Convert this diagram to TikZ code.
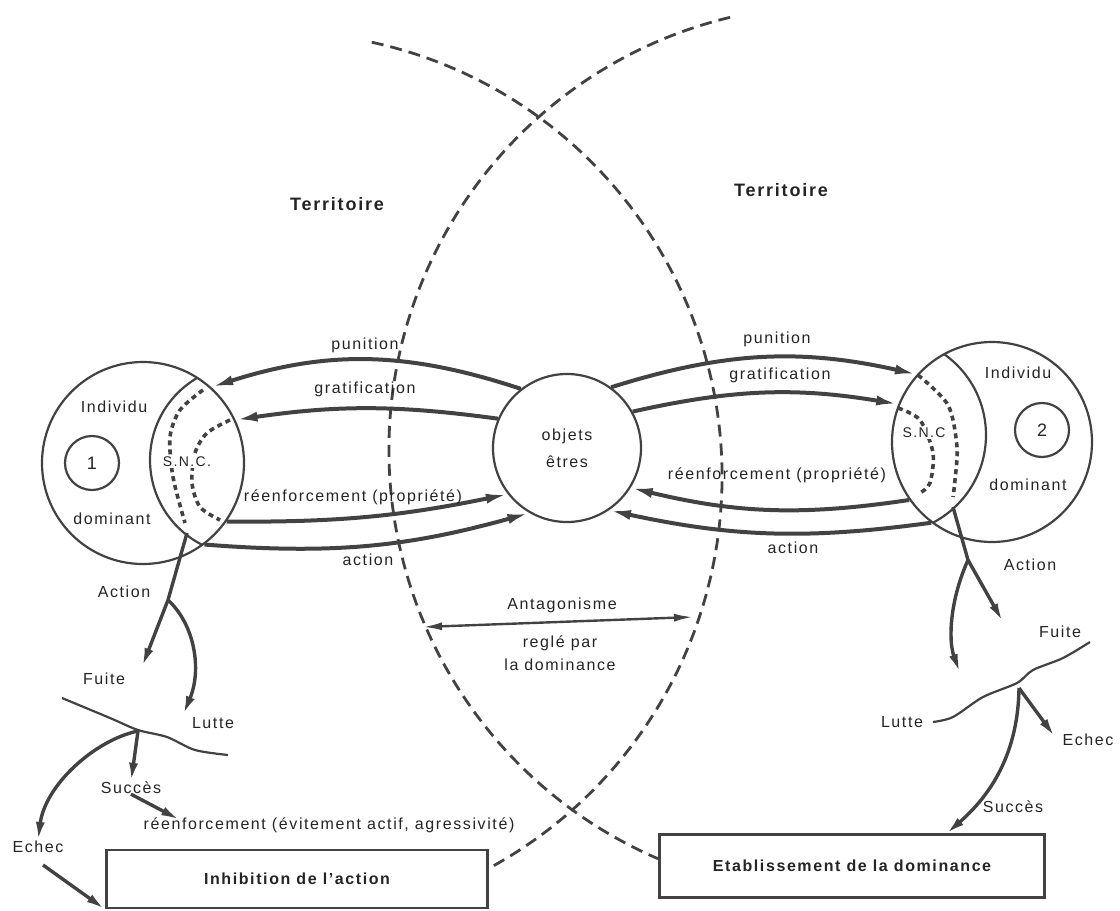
\documentclass[tikz,border=0pt]{standalone}
\usepackage{fontspec}
\setmainfont{Liberation Sans}[LetterSpace=10]
\usetikzlibrary{arrows.meta}
\definecolor{ink}{gray}{0.26}
\definecolor{txt}{gray}{0.14}
\tikzset{
  flow/.style={draw=ink, line width=4pt, -{Latex[length=22pt,width=10pt]}},
  fork/.style={draw=ink, line width=3.4pt, -{Latex[length=19pt,width=9pt]}},
  ring/.style={circle, draw=ink, line width=2.2pt, inner sep=0pt},
  terr/.style={draw=ink, line width=2.8pt, dash pattern=on 12pt off 7pt},
  nerve/.style={draw=ink, line width=3.6pt, dash pattern=on 5pt off 4pt},
  wave/.style={draw=ink, line width=2.2pt},
  lbl/.style={text=txt, font=\fontsize{16}{18}\selectfont, inner sep=0pt},
  ttl/.style={text=txt, font=\bfseries\fontsize{18}{20}\selectfont, inner sep=0pt},
  panel/.style={draw=ink, line width=2.8pt, text=txt, font=\bfseries\fontsize{16}{18}\selectfont},
}
\begin{document}
\begin{tikzpicture}[x=1pt,y=-1pt]
\useasboundingbox (0,0) rectangle (1120,911);
% limites des territoires
\coordinate (cA) at (277,477);
\coordinate (cB) at (834,450);
\draw[terr] ([shift={(77.7:445pt)}]cA) arc[start angle=77.7, end angle=-61.1, radius=445pt];
\draw[terr] ([shift={(103.5:445pt)}]cB) arc[start angle=103.5, end angle=246.7, radius=445pt];
\node[ttl] (terr1) at (337,204) {Territoire};
\node[ttl] (terr2) at (781,190) {Territoire};

% individus et S.N.C.
\node[ring, minimum size=202pt] (ind1) at (143,463) {};
\node[ring, minimum size=200pt] (ind2) at (992,442) {};
\begin{scope}
  \clip (ind1.center) circle[radius=101pt];
  \draw[ink, line width=2.2pt] (245,460) circle[radius=95pt];
\end{scope}
\begin{scope}
  \clip (ind2.center) circle[radius=100pt];
  \draw[ink, line width=2.2pt] (887,435) circle[radius=99pt];
\end{scope}
\draw[nerve] plot[smooth] coordinates {(203,390) (180,410) (170,437) (173,477) (185,523)};
\draw[nerve] plot[smooth] coordinates {(230,420) (207,433) (195,453) (192,483) (200,507) (220,520)};
\draw[nerve] plot[smooth] coordinates {(918,375) (948,405) (957,447) (955,480) (953,497)};
\draw[nerve] plot[smooth] coordinates {(898,408) (920,420) (933,453) (930,483) (920,493)};
\node[ring, minimum size=54pt, lbl, font=\fontsize{18}{20}\selectfont] (n1) at (92,463) {1};
\node[ring, minimum size=54pt, lbl, font=\fontsize{18}{20}\selectfont] (n2) at (1042,430) {2};
\node[lbl] (indiv1) at (114,407) {Individu};
\node[lbl] (dom1) at (112,519) {dominant};
\node[lbl, font=\fontsize{14}{16}\selectfont, fill=white, inner sep=1.5pt] (snc1) at (187,462) {S.N.C.};
\node[lbl] (indiv2) at (1018,373) {Individu};
\node[lbl] (dom2) at (1028,485) {dominant};
\node[lbl, font=\fontsize{14}{16}\selectfont, fill=white, inner sep=1.5pt] (snc2) at (924,433) {S.N.C};

% objets
\node[ring, minimum size=148pt, lbl, align=center] (obj) at (567,448) {objets\\[9pt]êtres};

% echanges
\draw[flow] (obj.128) to[bend right=18] (ind1.48);
\draw[flow] (obj.157) to[bend right=8] (ind1.25);
\draw[flow] (ind1.-35) to[bend right=6] (obj.218);
\draw[flow] (ind1.-53) to[bend right=10] (obj.240);
\draw[flow] (obj.54) to[bend left=15] (ind2.138);
\draw[flow] (obj.29) to[bend left=11] (ind2.158);
\draw[flow] (ind2.215) to[bend left=11] (obj.-32);
\draw[flow] (ind2.233) to[bend left=10] (obj.-56);
\node[lbl] (pun1) at (365,345) {punition};
\node[lbl] (grat1) at (365,389) {gratification};
\node[lbl] (renf1) at (353,497) {réenforcement (propriété)};
\node[lbl] (act1) at (368,560) {action};
\node[lbl] (pun2) at (777,339) {punition};
\node[lbl] (grat2) at (780,375) {gratification};
\node[lbl] (renf2) at (777,475) {réenforcement (propriété)};
\node[lbl] (act2) at (793,548) {action};

% antagonisme
\coordinate (antL) at (423,627);
\coordinate (antR) at (693,617);
\draw[ink, line width=2.4pt, {Latex[length=19pt,width=8pt]}-{Latex[length=19pt,width=8pt]}] (antL) -- (antR);
\node[lbl] (anta) at (562,605) {Antagonisme};
\node[lbl, align=center] (regle) at (560,653) {reglé par\\[5pt]la dominance};

% individu 1 : action
\coordinate (a1) at (187,533);
\coordinate (s1) at (168,600);
\coordinate (f1) at (142,667);
\coordinate (l1) at (183,715);
\coordinate (j1) at (138,731);
\draw[ink, line width=3.4pt] (a1) -- (s1);
\draw[fork] (s1) -- (f1);
\draw[fork] (s1) .. controls (195,625) and (202,670) .. (l1);
\node[lbl] (act1b) at (124,592) {Action};
\node[lbl] (fui1) at (104,679) {Fuite};
\node[lbl] (lut1) at (213,723) {Lutte};
\draw[wave] plot[smooth] coordinates {(62,698) (110,718) (138,730) (167,737) (195,750) (228,755)};
\node[lbl] (suc1) at (131,788) {Succès};
\node[lbl] (ech1) at (38,847) {Echec};
\draw[fork] (j1) -- (suc1.north);
\draw[fork] (j1) .. controls (95,740) and (45,785) .. (ech1.north);
\node[lbl] (renf3) at (329,825) {réenforcement (évitement actif, agressivité)};
\coordinate (r1) at (180,820);
\draw[fork] (suc1.south) -- (r1);
\node[panel, minimum width=381pt, minimum height=58pt] (inhib) at (297,879) {Inhibition de l'action};
\coordinate (e1) at (43,865);
\draw[fork] (e1) -- (inhib.south west);

% individu 2 : action
\coordinate (a2) at (953,507);
\coordinate (s2) at (968,560);
\coordinate (f2) at (1003,622);
\coordinate (l2) at (960,673);
\coordinate (j2) at (1019,688);
\draw[ink, line width=3.4pt] (a2) -- (s2);
\draw[fork] (s2) -- (f2);
\draw[fork] (s2) .. controls (950,600) and (948,640) .. (l2);
\node[lbl] (act2b) at (1030,565) {Action};
\node[lbl] (fui2) at (1060,632) {Fuite};
\node[lbl] (lut2) at (902,722) {Lutte};
\draw[wave] plot[smooth] coordinates {(1090,642) (1063,658) (1033,670) (1017,683) (983,697) (953,717) (933,722)};
\node[lbl] (ech2) at (1088,740) {Echec};
\node[lbl] (suc2) at (1013,807) {Succès};
\coordinate (e2) at (1055,737);
\draw[fork] (j2) -- (e2);
\node[panel, minimum width=385pt, minimum height=63pt] (etab) at (852,866) {Etablissement de la dominance};
\coordinate (t2) at (946,834);
\draw[fork] (j2) .. controls (1018,760) and (985,800) .. (t2);
\end{tikzpicture}
\end{document}
